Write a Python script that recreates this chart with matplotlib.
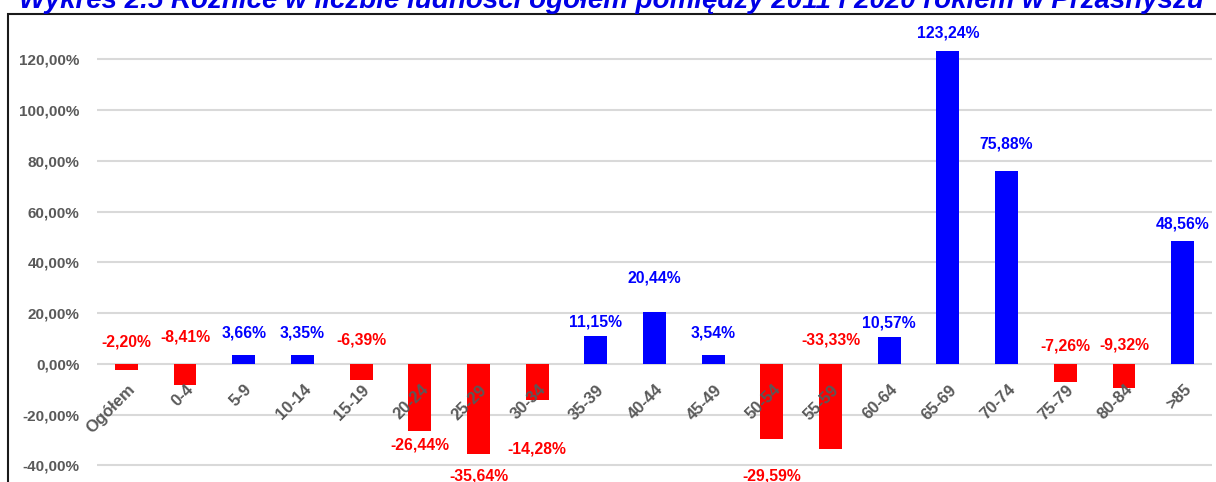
import matplotlib.pyplot as plt
from matplotlib.patches import Rectangle

categories = ['Ogółem', '0-4', '5-9', '10-14', '15-19', '20-24', '25-29', '30-34',
              '35-39', '40-44', '45-49', '50-54', '55-59', '60-64', '65-69',
              '70-74', '75-79', '80-84', '>85']
values = [-2.20, -8.41, 3.66, 3.35, -6.39, -26.44, -35.64, -14.28, 11.15, 20.44,
          3.54, -29.59, -33.33, 10.57, 123.24, 75.88, -7.26, -9.32, 48.56]
# where each data label sits (centre, in % units)
label_y = [8.7, 10.6, 12.2, 12.2, 9.4, -31.9, -44.0, -33.5, 16.5, 33.9,
           12.2, -44.0, 9.4, 16.1, 130.3, 86.6, 7.1, 7.5, 55.0]
yticks = [-40, -20, 0, 20, 40, 60, 80, 100, 120]

title = 'Wykres 2.5 Różnice w liczbie ludności ogółem pomiędzy 2011 i 2020 rokiem w Przasnyszu'

font = ['Liberation Sans', 'DejaVu Sans']
blue = '#0000FF'
red = '#FF0000'
gray = '#595959'

fig = plt.figure(figsize=(12.16, 4.82), dpi=100)
W, H = 1216, 482
ax = fig.add_axes([97 / W, 0, (1212 - 97) / W, (H - 14) / H])
ax.set_ylim(-46.5, 137.8)
ax.set_xlim(-0.5, 18.5)

for t in yticks:
    ax.axhline(t, color='#D9D9D9', lw=1.5, zorder=0)

colors = [blue if v >= 0 else red for v in values]
x = range(len(categories))
ax.bar(x, values, width=0.39, color=colors, zorder=2)

for i, (v, ly) in enumerate(zip(values, label_y)):
    ax.text(i, ly, f'{v:.2f}'.replace('.', ',') + '%', ha='center', va='center',
            color=blue if v >= 0 else red, fontsize=11.3, fontweight='bold',
            family=font, zorder=4)

for i, c in enumerate(categories):
    ax.annotate(c, (i, 0), xytext=(0.5, -13), textcoords='offset points',
                rotation=45, ha='right', va='top', rotation_mode='anchor',
                color=gray, fontsize=12, fontweight='bold', family=font,
                zorder=5, annotation_clip=False)

ax.set_xticks([])
ax.set_yticks(yticks)
ax.set_yticklabels([f'{t:.2f}'.replace('.', ',') + '%' for t in yticks],
                   color=gray, fontsize=11, fontweight='bold', family=font)
ax.tick_params(axis='y', length=0, pad=12.5)
for s in ax.spines.values():
    s.set_visible(False)

# outer frame of the chart area
fig.patches.append(Rectangle((8 / W, -0.1), 1.5, 1 - 14 / H + 0.1,
                             transform=fig.transFigure, fill=False,
                             edgecolor='#1a1a1a', lw=1.5, clip_on=False))

fig.text(0.503, 1 - 8 / H, title, ha='center', va='baseline', color='#0000E6',
         fontsize=20, fontweight='bold', fontstyle='italic', family=font)

fig.savefig('out.png', dpi=100)
